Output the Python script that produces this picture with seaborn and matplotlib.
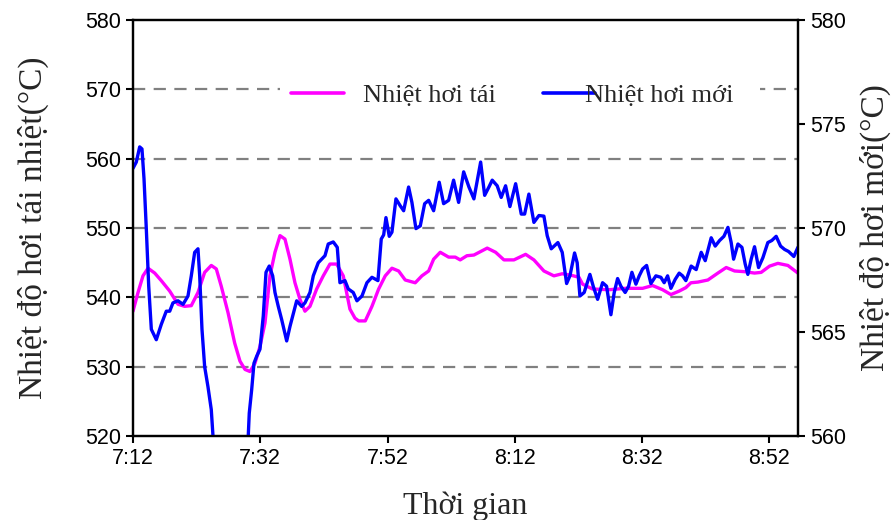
import matplotlib
matplotlib.use("Agg")
import matplotlib.pyplot as plt
import seaborn as sns
import numpy as np
from matplotlib.lines import Line2D
from matplotlib.patches import Rectangle

# minutes after 7:12
reheat_t = [0.0, 0.79, 1.57, 2.36, 3.41, 4.45, 5.77, 7.07, 8.12, 9.16, 10.21, 11.26, 12.30, 13.09,
            13.87, 14.93, 15.98, 16.81, 17.60, 18.38, 19.17, 19.95, 20.74, 21.52, 22.31, 23.10,
            23.88, 24.67, 25.45, 26.24, 27.02, 27.81, 28.86, 29.90, 30.95, 32.00, 33.04, 34.09,
            34.88, 35.46, 36.50, 37.55, 38.60, 39.64, 40.69, 41.74, 42.78, 44.35, 45.40, 46.46,
            47.24, 48.28, 49.60, 50.64, 51.42, 52.47, 53.57, 55.66, 56.98, 58.29, 59.86, 61.70,
            63.00, 64.57, 66.14, 67.45, 68.77, 70.07, 70.65, 72.22, 74.83, 77.45, 80.08, 81.65,
            83.22, 84.53, 85.83, 86.88, 87.67, 88.77, 90.34, 91.91, 93.22, 94.54, 96.11, 97.67,
            98.71, 100.03, 101.34, 102.91, 104.48]
reheat_v = [538.0, 540.7, 543.1, 544.2, 543.5, 542.4, 540.9, 539.0, 538.7, 538.8, 540.7, 543.6, 544.6, 544.1,
            541.6, 537.8, 533.4, 530.8, 529.6, 529.3, 530.5, 532.9, 536.3, 543.1, 546.5, 548.9,
            548.4, 545.5, 542.1, 539.7, 538.0, 538.7, 541.2, 543.1, 544.8, 544.8, 543.1, 538.3,
            537.0, 536.6, 536.6, 538.7, 541.2, 543.1, 544.2, 543.8, 542.5, 542.1, 543.1, 543.8,
            545.5, 546.5, 545.8, 545.8, 545.4, 546.0, 546.1, 547.1, 546.5, 545.4, 545.4, 546.2,
            545.4, 543.8, 543.1, 543.4, 543.2, 542.9, 541.9, 541.2, 541.1, 541.3, 541.3, 541.7,
            541.1, 540.4, 540.9, 541.4, 542.1, 542.2, 542.5, 543.5, 544.3, 543.8, 543.7, 543.5,
            543.6, 544.5, 544.9, 544.6, 543.5]

main_t = [0.0, 0.52, 1.05, 1.41, 1.73, 2.09, 2.47, 2.88, 3.66, 4.45, 5.23, 5.77, 6.28, 7.07, 7.86,
          8.64, 9.16, 9.69, 10.21, 10.48, 10.84, 11.26, 11.78, 12.30, 12.57, 13.67, 16.03, 17.60,
          18.11, 18.27, 18.65, 19.01, 19.43, 19.95, 20.47, 20.90, 21.41, 21.95, 22.31, 22.83,
          23.36, 24.15, 24.67, 25.09, 25.72, 26.50, 27.02, 27.81, 28.33, 29.11, 29.65, 30.17,
          30.68, 31.47, 32.10, 32.52, 33.31, 33.83, 34.61, 35.19, 35.98, 36.76, 37.55, 38.49,
          39.01, 39.39, 39.75, 40.27, 40.69, 41.32, 41.99, 42.53, 43.31, 43.83, 44.46, 45.14,
          45.83, 46.46, 47.24, 48.12, 48.81, 49.60, 50.38, 51.17, 51.96, 52.79, 53.57, 54.63,
          55.26, 55.93, 56.45, 57.23, 57.86, 58.55, 59.23, 60.13, 61.01, 61.54, 62.21, 63.00,
          63.79, 64.57, 65.09, 65.72, 66.77, 67.45, 68.14, 68.66, 69.39, 69.80, 70.23, 70.90,
          71.80, 72.32, 73.01, 73.79, 74.42, 75.10, 75.62, 76.15, 76.67, 77.34, 77.88, 78.40,
          79.03, 79.55, 80.08, 80.71, 81.38, 82.17, 82.95, 83.47, 84.01, 84.53, 85.20, 85.83,
          86.36, 86.88, 87.71, 88.50, 89.29, 89.92, 90.86, 91.49, 92.18, 92.86, 93.49, 94.00,
          94.38, 95.06, 95.69, 96.20, 96.62, 97.14, 97.67, 98.30, 98.98, 99.76, 100.39, 101.07,
          101.76, 102.39, 103.02, 103.85, 104.48]
main_v = [572.87, 573.17, 573.90, 573.80, 572.37, 569.97, 567.20, 565.13, 564.63, 565.37, 566.00, 566.00,
          566.40, 566.50, 566.33, 566.73, 567.70, 568.83, 569.00, 567.70, 565.13, 563.33, 562.37,
          561.27, 560.00, 558.00, 557.50, 558.00, 560.00, 561.10, 562.23, 563.50, 563.83, 564.17,
          565.77, 567.87, 568.17, 567.70, 566.90, 566.23, 565.60, 564.57, 565.27, 565.77, 566.50,
          566.23, 566.40, 566.90, 567.70, 568.33, 568.50, 568.67, 569.23, 569.33, 569.07, 567.37,
          567.47, 567.07, 566.90, 566.50, 566.73, 567.37, 567.63, 567.47, 569.47, 569.67, 570.50,
          569.60, 569.80, 571.40, 571.07, 570.83, 571.97, 571.23, 569.97, 570.10, 571.17, 571.33,
          570.83, 572.20, 571.17, 571.33, 572.30, 571.23, 572.70, 571.97, 571.40, 573.17, 571.57,
          571.97, 572.30, 572.03, 571.47, 572.03, 571.03, 572.13, 570.67, 570.67, 571.63, 570.27,
          570.60, 570.57, 569.63, 569.00, 569.30, 568.83, 567.33, 567.70, 568.80, 568.33, 566.73,
          566.90, 567.77, 567.20, 566.57, 567.37, 567.20, 565.83, 566.90, 567.57, 567.20, 566.90,
          567.20, 567.87, 567.30, 567.70, 568.03, 568.20, 567.33, 567.70, 567.63, 567.37, 567.70,
          567.10, 567.53, 567.83, 567.70, 567.47, 568.17, 568.00, 568.83, 568.43, 569.53, 569.13,
          569.40, 569.60, 570.03, 569.30, 568.50, 569.23, 569.07, 568.27, 567.77, 568.50, 569.10,
          568.10, 568.57, 569.30, 569.40, 569.60, 569.13, 568.97, 568.87, 568.63, 569.07]

x_ticks = [0, 20, 40, 60, 80, 100]
x_tick_labels = ["7:12", "7:32", "7:52", "8:12", "8:32", "8:52"]
left_ticks = [520, 530, 540, 550, 560, 570, 580]
right_ticks = [560, 565, 570, 575, 580]
series_names = ["Nhiệt hơi tái", "Nhiệt hơi mới"]

sns.set_style("ticks")
plt.rcParams['font.family'] = ['Liberation Sans', 'DejaVu Sans']
serif = ['Liberation Serif', 'DejaVu Serif']

fig = plt.figure(figsize=(8.95, 5.2), dpi=100)
ax = fig.add_axes([133/895, 84/520, 665/895, 416/520])
ax2 = ax.twinx()

sns.lineplot(x=reheat_t, y=reheat_v, ax=ax, color="#FF00FF", lw=2.4, legend=False)
sns.lineplot(x=main_t, y=main_v, ax=ax2, color="#0000FF", lw=2.4, legend=False)

ax.set_xlim(0, 104.5)
ax.set_ylim(520, 580)
ax2.set_ylim(560, 580)
ax.set_xticks(x_ticks)
ax.set_xticklabels(x_tick_labels)
ax.set_yticks(left_ticks)
ax2.set_yticks(right_ticks)

for v in left_ticks[1:-1]:
    ax.axhline(v, color="#808080", lw=1.6, linestyle=(0, (5.5, 3.8)), zorder=0)

# white legend background (hides gridline behind legend, as in the original)
ax.add_patch(Rectangle((0.221, 0.779), 0.722, 0.086, transform=ax.transAxes,
                       facecolor='white', edgecolor='none', zorder=1))

for a in (ax, ax2):
    a.tick_params(labelsize=15.5, width=1.5, length=5, direction='out', colors='black')
    for s in a.spines.values():
        s.set_linewidth(1.6)
        s.set_color('black')
        s.set_visible(True)

ax.set_xlabel("Thời gian", family=serif, fontsize=23, labelpad=16)
ax.set_ylabel("Nhiệt độ hơi tái nhiệt(°C)", family=serif, fontsize=24, labelpad=26)
ax2.set_ylabel("Nhiệt độ hơi mới(°C)", family=serif, fontsize=24, labelpad=10)

h1 = Line2D([], [], color="#FF00FF", lw=2.6)
h2 = Line2D([], [], color="#0000FF", lw=2.6)
leg1 = ax2.legend([h1], [series_names[0]], loc='center left', bbox_to_anchor=(0.238, 0.818),
                  frameon=False, prop={'family': serif, 'size': 19}, borderpad=0, borderaxespad=0,
                  handlelength=2.0, handletextpad=0.7)
ax2.add_artist(leg1)
leg2 = ax2.legend([h2], [series_names[1]], loc='center left', bbox_to_anchor=(0.6165, 0.818),
                  frameon=False, prop={'family': serif, 'size': 19}, borderpad=0, borderaxespad=0,
                  handlelength=1.97, handletextpad=-0.38)

fig.savefig("out.png", dpi=100)
